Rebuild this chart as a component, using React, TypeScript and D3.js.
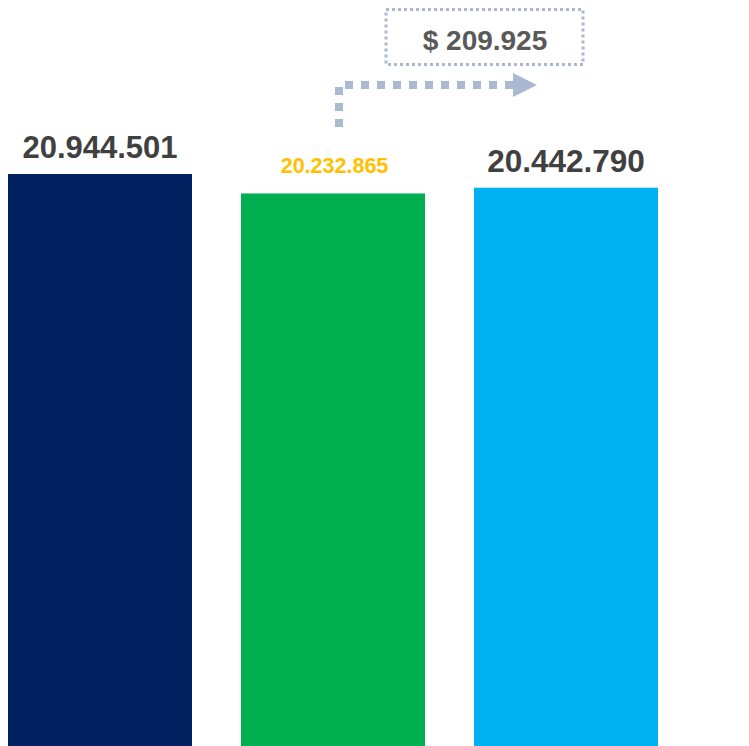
import React from "react";
import * as d3 from "d3";

const categories = ["A", "B", "C"];
const values = [20944501, 20232865, 20442790];
const labels = ["20.944.501", "20.232.865", "20.442.790"];
const barColors = ["#002060", "#00B050", "#00B0F0"];
const labelColors = ["#404040", "#FFC000", "#404040"];
const labelSizes = [31, 21.5, 31.5];
const labelGaps = [16, 20, 16];
const deltaLabel = "$ 209.925";

const W = 749;
const H = 746;

export default function App() {
  const x = d3.scaleBand<string>().domain(categories).range([8, 658]).paddingInner(49 / 233).paddingOuter(0);
  const y = d3.scaleLinear().domain([0, 27316000]).range([H, 0]);
  const accent = "#ABB8D1";
  return (
    <svg width={W} height={H} style={{ position: "absolute", left: 0, top: 0, display: "block" }}>
      <rect width={W} height={H} fill="#fff" />
      {categories.map((c, i) => (
        <g key={c}>
          <rect x={x(c)} y={y(values[i])} width={x.bandwidth()} height={H - y(values[i])} fill={barColors[i]} />
          <text
            x={(x(c) as number) + x.bandwidth() / 2 + (i === 1 ? 1.5 : 0)}
            y={y(values[i]) - labelGaps[i]}
            textAnchor="middle"
            fontFamily="Liberation Sans, Arial, sans-serif"
            fontWeight="bold"
            fontSize={labelSizes[i]}
            fill={labelColors[i]}
          >
            {labels[i]}
          </text>
        </g>
      ))}
      <rect x={386} y={9.5} width={197} height={55} fill="none" stroke={accent} strokeWidth={3} strokeDasharray="3 3" />
      <text x={485} y={50} textAnchor="middle" fontFamily="Liberation Sans, Arial, sans-serif" fontWeight="bold" fontSize={28} fill="#595959">
        {deltaLabel}
      </text>
      <path d="M339,127 V85 H513" fill="none" stroke={accent} strokeWidth={8} strokeDasharray="8 8" />
      <path d="M513,73 L537,85 L513,97 Z" fill={accent} />
    </svg>
  );
}
